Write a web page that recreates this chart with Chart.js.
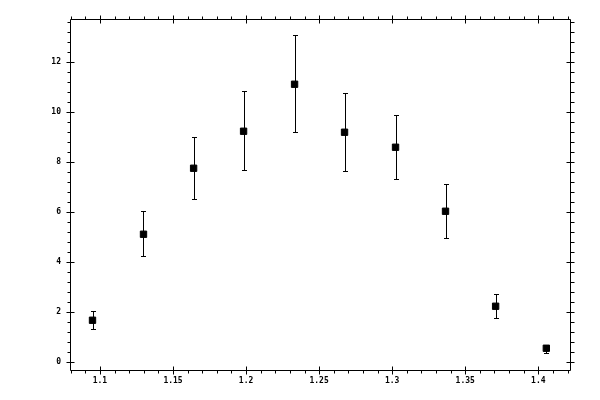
<!DOCTYPE html>
<html>
<head>
<meta charset="utf-8">
<script src="https://cdn.jsdelivr.net/npm/chart.js@4"></script>
<style>
  html, body { margin: 0; padding: 0; background: #fff; }
  canvas { display: block; }
</style>
</head>
<body>
<canvas id="myChart" width="600" height="400"></canvas>
<script>
// data
const xValues = [1.0949, 1.1298, 1.1641, 1.1983, 1.2332, 1.2674, 1.3023, 1.3365, 1.3708, 1.4055];
const yValues = [1.67, 5.11, 7.75, 9.23, 11.11, 9.19, 8.59, 6.03, 2.23, 0.55];
const yLow = [1.31, 4.23, 6.51, 7.67, 9.19, 7.63, 7.31, 4.95, 1.75, 0.35];
const yHigh = [2.03, 6.03, 9.0, 10.83, 13.07, 10.75, 9.89, 7.11, 2.71, 0.69];

const xTicks = [1.1, 1.15, 1.2, 1.25, 1.3, 1.35, 1.4];
const yTicks = [0, 2, 4, 6, 8, 10, 12];

const points = xValues.map((x, i) => ({ x: x, y: yValues[i] }));

// error bars, drawn under the markers
const errorBars = {
    id: "errorBars",
    beforeDatasetsDraw(chart) {
        const ctx = chart.ctx;
        const xs = chart.scales.x, ys = chart.scales.y;
        ctx.save();
        ctx.strokeStyle = "#000";
        ctx.lineWidth = 1;
        ctx.beginPath();
        xValues.forEach((v, i) => {
            const px = Math.round(xs.getPixelForValue(v)) + 0.5;
            const lo = Math.round(ys.getPixelForValue(yLow[i])) + 0.5;
            const hi = Math.round(ys.getPixelForValue(yHigh[i])) + 0.5;
            ctx.moveTo(px, lo); ctx.lineTo(px, hi);
            ctx.moveTo(px - 2.5, lo); ctx.lineTo(px + 2.5, lo);
            ctx.moveTo(px - 2.5, hi); ctx.lineTo(px + 2.5, hi);
        });
        ctx.stroke();
        ctx.restore();
    }
};

// box frame with major and minor ticks on all four sides
const frameTicks = {
    id: "frameTicks",
    afterDraw(chart) {
        const ctx = chart.ctx;
        const { left, right, top, bottom } = chart.chartArea;
        const xs = chart.scales.x, ys = chart.scales.y;
        const L = Math.floor(left) + 0.5, R = Math.floor(right) + 0.5;
        const T = Math.floor(top) + 0.5, B = Math.floor(bottom) + 0.5;
        ctx.save();
        ctx.strokeStyle = "#000";
        ctx.lineWidth = 1;
        ctx.beginPath();
        ctx.rect(L, T, R - L, B - T);
        for (let i = 108; i <= 142; i++) {
            const px = Math.round(xs.getPixelForValue(i / 100)) + 0.5;
            if (px < L || px > R) continue;
            if (i % 5 === 0) {
                ctx.moveTo(px, B - 4); ctx.lineTo(px, B + 4);
                ctx.moveTo(px, T - 4); ctx.lineTo(px, T + 4);
            } else {
                ctx.moveTo(px, B); ctx.lineTo(px, B + 3);
                ctx.moveTo(px, T - 3); ctx.lineTo(px, T);
            }
        }
        for (let i = 0; i <= 34; i++) {
            const py = Math.round(ys.getPixelForValue(i * 0.4)) + 0.5;
            if (py < T || py > B) continue;
            if (i % 5 === 0) {
                ctx.moveTo(L - 4, py); ctx.lineTo(L + 4, py);
                ctx.moveTo(R - 4, py); ctx.lineTo(R + 4, py);
            } else {
                ctx.moveTo(L - 3, py); ctx.lineTo(L, py);
                ctx.moveTo(R, py); ctx.lineTo(R + 4, py);
            }
        }
        ctx.stroke();
        ctx.restore();
    }
};

const ctx = document.getElementById("myChart").getContext("2d");

const myChart = new Chart(ctx, {
    type: "scatter",
    data: {
        datasets: [
            {
                data: points,
                pointStyle: "rect",
                pointRadius: 4.5,
                pointHoverRadius: 4.5,
                backgroundColor: "#000",
                borderColor: "#000",
                borderWidth: 1,
            },
        ],
    },
    options: {
        responsive: false,
        animation: false,
        devicePixelRatio: 1,
        layout: { padding: { top: 19, right: 30, left: 0, bottom: 0 } },
        plugins: { legend: { display: false }, tooltip: { enabled: false } },
        scales: {
            x: {
                type: "linear",
                min: 1.0795,
                max: 1.4217,
                border: { display: false },
                grid: { display: false, drawTicks: false },
                afterBuildTicks: (scale) => { scale.ticks = xTicks.map(v => ({ value: v })); },
                afterFit: (scale) => { scale.height = 30; },
                ticks: {
                    autoSkip: false,
                    maxRotation: 0,
                    padding: 6,
                    color: "#000",
                    font: { family: "DejaVu Sans Mono", size: 8, weight: "bold" },
                    callback: (value) => String(value),
                },
            },
            y: {
                type: "linear",
                min: -0.32,
                max: 13.72,
                border: { display: false },
                grid: { display: false, drawTicks: false },
                afterBuildTicks: (scale) => { scale.ticks = yTicks.map(v => ({ value: v })); },
                afterFit: (scale) => { scale.width = 70; },
                ticks: {
                    autoSkip: false,
                    padding: 9,
                    color: "#000",
                    font: { family: "DejaVu Sans Mono", size: 8, weight: "bold" },
                    callback: (value) => String(value),
                },
            },
        },
    },
    plugins: [errorBars, frameTicks],
});
</script>
</body>
</html>
